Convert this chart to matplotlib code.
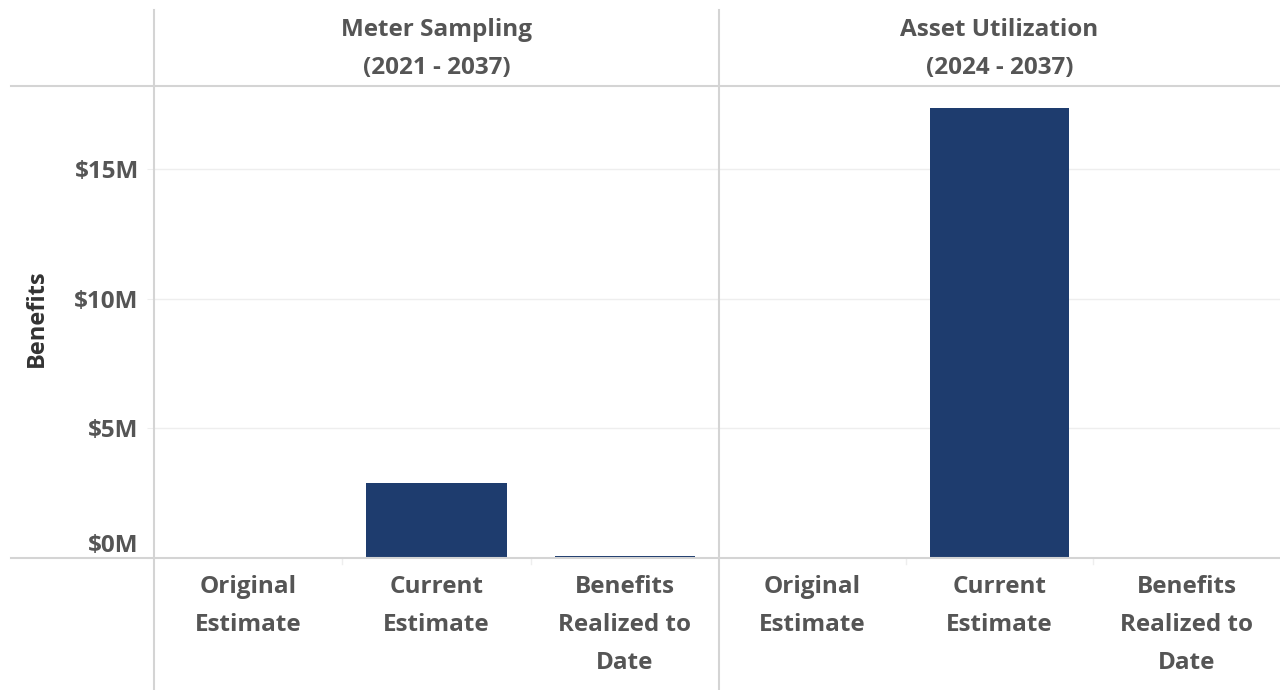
import matplotlib
matplotlib.use("Agg")
import matplotlib.pyplot as plt
from matplotlib.lines import Line2D
from matplotlib.ticker import FuncFormatter

plt.rcParams['font.family'] = ['Open Sans', 'DejaVu Sans']

# Data
panels = ["Meter Sampling\n(2021 - 2037)", "Asset Utilization\n(2024 - 2037)"]
categories = ["Original\nEstimate", "Current\nEstimate", "Benefits\nRealized to\nDate"]
meter_sampling = [0.0, 2.88e6, 0.08e6]
asset_utilization = [0.0, 17.35e6, 0.0]
y_ticks = [0, 5e6, 10e6, 15e6]
y_label = "Benefits"

series = [meter_sampling, asset_utilization]

BAR = "#1e3c6e"
TEXT = "#555555"
FRAME = "#d4d4d4"
GRID = "#eeeeee"
FS = 17.5

W, H = 1280, 690
fig = plt.figure(figsize=(W / 100, H / 100), dpi=100)

def fx(px):
    return px / W

def fy(py):
    return 1 - py / H

top_px, base_px = 86, 558
x_edges = [154, 719, 1280]
ymax = 18.2e6

axes = []
for i, vals in enumerate(series):
    ax = fig.add_axes([fx(x_edges[i]), fy(base_px), fx(x_edges[i + 1] - x_edges[i]),
                       (base_px - top_px) / H])
    ax.set_ylim(0, ymax)
    ax.set_xlim(-0.5, len(categories) - 0.5)
    for t in y_ticks[1:]:
        ax.axhline(t, color=GRID, lw=1, zorder=0)
    ax.bar(range(len(categories)), vals, width=0.745, color=BAR, zorder=2)
    for s in ax.spines.values():
        s.set_visible(False)
    ax.set_xticks(range(len(categories)))
    ax.set_xticklabels(categories, fontsize=FS, fontweight='bold', color=TEXT,
                       linespacing=1.78, va='top')
    ax.tick_params(axis='x', length=0, pad=12)
    ax.set_yticks(y_ticks)
    if i == 0:
        ax.yaxis.set_major_formatter(FuncFormatter(lambda v, p: f"${v / 1e6:.0f}M"))
        ax.tick_params(axis='y', length=5, color=GRID, pad=6, labelsize=FS,
                       labelcolor=TEXT)
        for lab in ax.get_yticklabels():
            lab.set_fontweight('bold')
        # the zero label sits just above the baseline
        ax.get_yticklabels()[0].set_va('bottom')
    else:
        ax.tick_params(axis='y', length=0, labelleft=False)
    # faint separators between categories at the baseline
    for b in (0.5, 1.5):
        ax.plot([b, b], [0, -0.25e6], color=GRID, lw=1, clip_on=False)
    axes.append(ax)

for i, p in enumerate(panels):
    cx = fx((x_edges[i] + x_edges[i + 1]) / 2)
    fig.text(cx, fy(49), p, ha='center', va='center', fontsize=FS,
             fontweight='bold', color=TEXT, linespacing=1.78)

# frame lines
fig.add_artist(Line2D([fx(11), 1], [fy(top_px), fy(top_px)], color=FRAME, lw=1.5))
fig.add_artist(Line2D([fx(11), 1], [fy(base_px), fy(base_px)], color=FRAME, lw=1.5))
fig.add_artist(Line2D([fx(154), fx(154)], [fy(10), fy(690)], color=FRAME, lw=1.5))
fig.add_artist(Line2D([fx(719), fx(719)], [fy(10), fy(690)], color=FRAME, lw=1.5))

fig.text(fx(37), fy(318), y_label, rotation=90, ha='center', va='center',
         fontsize=17, fontweight='bold', color='#333333')

fig.savefig("out.png", dpi=100, facecolor='white')
